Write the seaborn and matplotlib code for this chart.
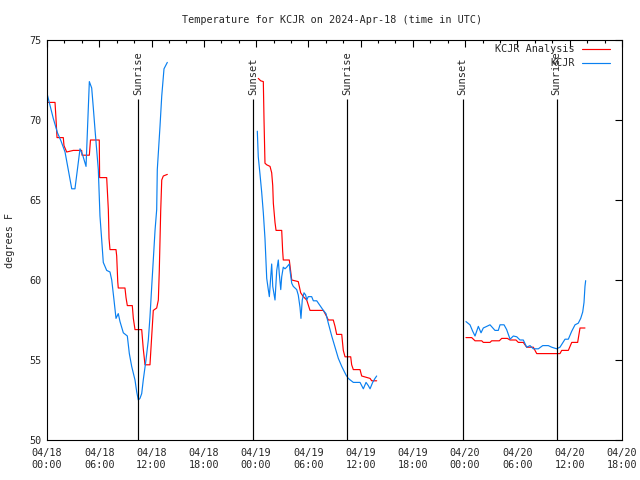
import numpy as np  # numerical helpers
import pandas as pd  # data frames for seaborn
import matplotlib
matplotlib.use('Agg')
import matplotlib.pyplot as plt  # plotting
import seaborn as sns  # line plots

# Observation (KCJR) segments: hours since 04/18 00:00 UTC and temperature in F
obs_hours_1 = [0.03, 0.72, 1.2, 1.6, 2.07, 2.84, 3.21, 3.79, 4.10, 4.48, 4.86, 5.13, 5.31, 5.51,
               5.89, 6.08, 6.28, 6.46, 6.85, 7.23, 7.43, 7.69, 7.92, 8.18, 8.38, 8.76, 9.22,
               9.45, 9.72, 10.10, 10.30, 10.48, 10.67, 10.87, 11.05, 11.36, 11.63, 11.82,
               12.02, 12.20, 12.40, 12.59, 12.66, 12.97, 13.17, 13.43, 13.81]
obs_temp_1 = [71.6, 70.1, 69.2, 68.7, 68.0, 65.7, 65.7, 68.2, 67.8, 67.1, 72.4, 72.0, 70.8, 69.4,
              66.9, 64.0, 62.5, 61.1, 60.6, 60.5, 60.0, 58.75, 57.6, 57.9, 57.4, 56.7, 56.5,
              55.4, 54.6, 53.75, 53.0, 52.5, 52.6, 52.9, 53.75, 55.0, 56.25, 57.7,
              59.6, 61.25, 63.1, 64.4, 66.9, 69.6, 71.5, 73.2, 73.6]

obs_hours_2 = [24.14, 24.25, 24.45, 24.64, 24.83, 25.02, 25.14, 25.22, 25.40, 25.52, 25.68, 25.79,
               25.91, 26.17, 26.37, 26.55, 26.66, 26.83, 26.94, 27.12, 27.32, 27.51, 27.81,
               27.89, 28.09, 28.27, 28.66, 28.84, 29.04, 29.15, 29.30, 29.50, 29.69, 29.81,
               29.99, 30.38, 30.57, 30.96, 31.34, 31.72, 32.02, 32.29, 32.68, 33.06, 33.44,
               33.83, 34.32, 34.58, 35.16, 35.93, 36.31, 36.62, 36.88, 37.08, 37.38, 37.65, 37.84]
obs_temp_2 = [69.3, 67.7, 66.6, 65.5, 64.2, 62.6, 61.1, 60.1, 59.4, 58.96, 60.2, 61.0,
              59.6, 58.75, 60.6, 61.25, 60.4, 59.4, 60.2, 60.8, 60.7, 60.8, 61.0,
              60.6, 59.8, 59.6, 59.4, 59.06, 58.3, 57.6, 58.75, 59.2, 59.06, 58.75,
              58.96, 58.96, 58.7, 58.7, 58.4, 58.1, 57.9, 57.3, 56.5, 55.8, 55.1,
              54.6, 54.06, 53.85, 53.6, 53.6, 53.2, 53.6, 53.4, 53.2, 53.6, 53.85, 54.0]

obs_hours_3 = [48.09, 48.55, 48.86, 49.13, 49.51, 49.82, 50.08, 50.47, 50.85, 51.42, 51.80, 52.00,
               52.46, 52.76, 53.15, 53.53, 53.92, 54.29, 54.67, 55.06, 55.44, 55.82, 56.40,
               56.90, 57.54, 57.93, 58.50, 58.88, 59.46, 59.84, 60.23, 60.61, 60.98, 61.26,
               61.49, 61.64, 61.75, 61.83]
obs_temp_3 = [57.4, 57.2, 56.8, 56.5, 57.1, 56.7, 57.0, 57.1, 57.2, 56.85, 56.85, 57.2,
              57.2, 56.9, 56.3, 56.5, 56.45, 56.25, 56.25, 55.8, 55.9, 55.7, 55.7,
              55.9, 55.9, 55.8, 55.7, 55.8, 56.3, 56.3, 56.8, 57.2, 57.3, 57.6,
              58.0, 58.6, 59.6, 59.96]

# Analysis (KCJR Analysis) segments
ana_hours_1 = [0.03, 0.92, 1.03, 1.15, 1.87, 1.95, 2.26, 3.02, 3.98, 4.02, 4.86, 4.99, 6.00, 6.04,
               6.85, 7.04, 7.12, 7.23, 7.92, 8.00, 8.12, 8.18, 8.95, 9.07, 9.22, 9.79, 9.91,
               10.10, 10.87, 11.05, 11.25, 11.82, 12.02, 12.20, 12.59, 12.78, 12.89, 13.05,
               13.17, 13.35, 13.81]
ana_temp_1 = [71.1, 71.1, 70.1, 68.9, 68.9, 68.4, 68.0, 68.1, 68.1, 67.8, 67.8, 68.75, 68.75, 66.4,
              66.4, 64.4, 62.6, 61.9, 61.9, 61.5, 59.9, 59.5, 59.5, 58.9, 58.4, 58.4, 57.6,
              56.9, 56.9, 55.7, 54.7, 54.7, 56.5, 58.1, 58.25, 58.75, 60.6, 64.3,
              66.25, 66.5, 66.6]

ana_hours_2 = [24.25, 24.53, 24.83, 24.91, 25.02, 25.22, 25.60, 25.79, 25.91, 25.98, 26.17, 26.29,
               26.94, 27.05, 27.12, 27.81, 27.89, 28.09, 28.84, 28.96, 29.12, 29.42, 29.81,
               30.19, 31.72, 32.02, 32.29, 32.86, 33.06, 33.25, 33.83, 34.01, 34.21, 34.86,
               34.97, 35.16, 35.93, 36.12, 37.08, 37.27, 37.84]
ana_temp_2 = [72.6, 72.45, 72.4, 70.0, 67.3, 67.2, 67.1, 66.7, 65.9, 64.8, 63.6, 63.1,
              63.1, 61.8, 61.25, 61.25, 60.9, 60.0, 59.9, 59.6, 59.2, 58.96, 58.75,
              58.1, 58.1, 57.8, 57.5, 57.5, 57.1, 56.6, 56.6, 55.6, 55.2, 55.2,
              54.7, 54.4, 54.4, 54.0, 53.85, 53.7, 53.7]

ana_hours_3 = [48.09, 48.75, 49.13, 49.90, 50.08, 50.85, 51.04, 51.92, 52.19, 52.84, 53.15, 53.83,
               54.10, 54.67, 55.06, 55.82, 56.21, 58.88, 59.08, 59.84, 60.23, 60.91, 61.18, 61.75]
ana_temp_3 = [56.4, 56.4, 56.2, 56.2, 56.1, 56.1, 56.2, 56.2, 56.35, 56.35, 56.25, 56.25,
              56.1, 56.1, 55.8, 55.8, 55.4, 55.4, 55.6, 55.6, 56.1, 56.1, 57.0, 57.0]

# Sunrise / sunset times (hours since 04/18 00:00 UTC)
sun_hours = [10.45, 23.65, 34.45, 47.7, 58.5]
sun_labels = ['Sunrise', 'Sunset', 'Sunrise', 'Sunset', 'Sunrise']

# x axis tick labels every 6 hours
tick_hours = list(range(0, 67, 6))
tick_labels = ['04/18\n00:00', '04/18\n06:00', '04/18\n12:00', '04/18\n18:00',
               '04/19\n00:00', '04/19\n06:00', '04/19\n12:00', '04/19\n18:00',
               '04/20\n00:00', '04/20\n06:00', '04/20\n12:00', '04/20\n18:00']

# Build long data frames, one segment id per gap-free piece
obs_df = pd.concat([pd.DataFrame({'hour': h, 'temp': t, 'seg': i})
                    for i, (h, t) in enumerate([(obs_hours_1, obs_temp_1),
                                                (obs_hours_2, obs_temp_2),
                                                (obs_hours_3, obs_temp_3)])])
ana_df = pd.concat([pd.DataFrame({'hour': h, 'temp': t, 'seg': i})
                    for i, (h, t) in enumerate([(ana_hours_1, ana_temp_1),
                                                (ana_hours_2, ana_temp_2),
                                                (ana_hours_3, ana_temp_3)])])

sns.set_style('white')
plt.rcParams['font.family'] = ['DejaVu Sans Mono']
plt.rcParams['font.size'] = 7.3

red = '#ff0000'
blue = '#0a80f0'
lw = 0.85

fig = plt.figure(figsize=(6.4, 4.8), dpi=100)
ax = fig.add_axes([47 / 640, 40 / 480, 575 / 640, 400 / 480])

# draw each segment separately so the gaps stay open
for seg, sub in ana_df.groupby('seg'):
    sns.lineplot(data=sub, x='hour', y='temp', color=red, lw=lw, ax=ax,
                 estimator=None, sort=False)
for seg, sub in obs_df.groupby('seg'):
    sns.lineplot(data=sub, x='hour', y='temp', color=blue, lw=lw, ax=ax,
                 estimator=None, sort=False)

# sunrise / sunset markers
ax.vlines(sun_hours, 50, 71.3, color='black', lw=lw)
for h, lab in zip(sun_hours, sun_labels):
    ax.text(h, 71.55, lab, rotation=90, ha='center', va='bottom', fontsize=7.5)

ax.set_xlim(0, 66)
ax.set_ylim(50, 75)
ax.set_xticks(tick_hours)
ax.set_xticklabels(tick_labels)
ax.set_xticks(np.arange(0, 67, 2), minor=True)
ax.set_yticks([50, 55, 60, 65, 70, 75])
ax.tick_params(which='both', direction='in', top=True, right=True, color='black', width=0.8)
ax.tick_params(which='major', length=5, pad=6)
ax.tick_params(which='minor', length=2.5)
ax.tick_params(axis='y', pad=4)
ax.set_xlabel('')
ax.set_ylabel('')
for s in ax.spines.values():
    s.set_color('black')
    s.set_linewidth(0.8)

# gnuplot style legend: text right aligned, sample line after it
ax.text(0.918, 0.9775, 'KCJR Analysis', transform=ax.transAxes, ha='right', va='center')
ax.text(0.918, 0.9425, 'KCJR', transform=ax.transAxes, ha='right', va='center')
ax.plot([0.930, 0.979], [0.9775, 0.9775], color=red, lw=lw, transform=ax.transAxes)
ax.plot([0.930, 0.979], [0.9425, 0.9425], color=blue, lw=lw, transform=ax.transAxes)

fig.text(332 / 640, 1 - 20 / 480, 'Temperature for KCJR on 2024-Apr-18 (time in UTC)',
         ha='center', va='center')
fig.text(10 / 640, 240 / 480, 'degrees F', rotation=90, ha='center', va='center')

fig.savefig('out.png', dpi=100)
